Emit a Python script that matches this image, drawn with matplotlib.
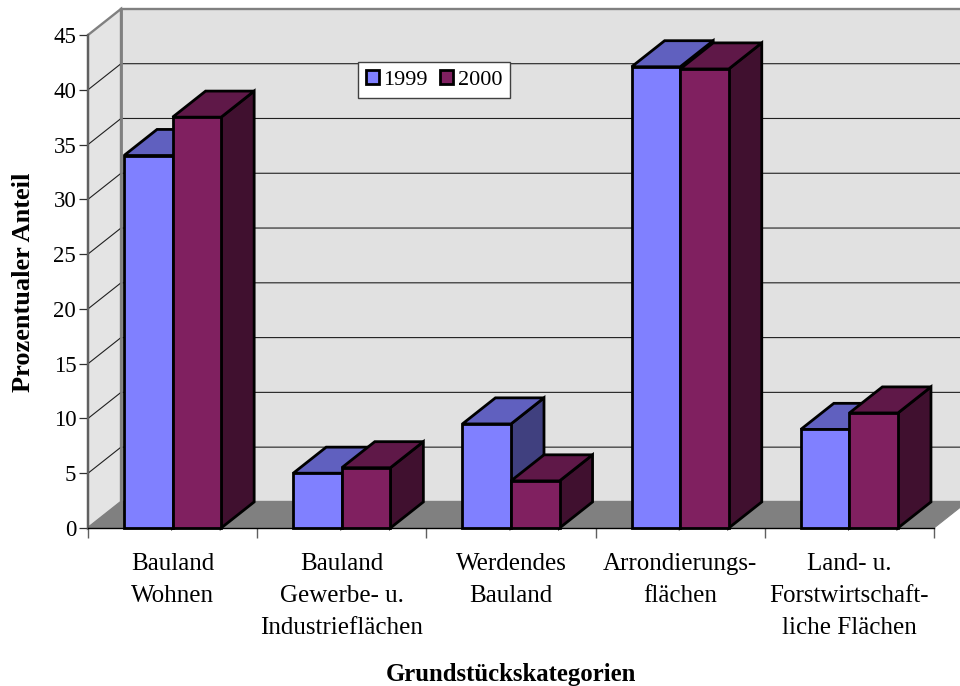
import matplotlib
matplotlib.use("Agg")
import matplotlib.pyplot as plt
from matplotlib.patches import Polygon

plt.rcParams["font.family"] = ["Liberation Serif", "DejaVu Serif"]

categories = [
    "Bauland\nWohnen",
    "Bauland\nGewerbe- u.\nIndustrieflächen",
    "Werdendes\nBauland",
    "Arrondierungs-\nflächen",
    "Land- u.\nForstwirtschaft-\nliche Flächen",
]
years = ["1999", "2000"]
values_1999 = [34.0, 5.0, 9.5, 42.1, 9.0]
values_2000 = [37.5, 5.5, 4.3, 41.9, 10.5]
y_ticks = [0, 5, 10, 15, 20, 25, 30, 35, 40, 45]

# Colours per face of the pseudo-3D bars: front, top, side
faces_1999 = ("#8080FF", "#6060BF", "#40407F")
faces_2000 = ("#802060", "#5F1848", "#40102F")
WALL = "#E1E1E1"
FLOOR = "#808080"
FRAME = "#808080"

# Oblique projection offset of the chart's depth, in data units
DEPTH_X = 0.195
DEPTH_Y = 2.38
BAR_WIDTH = 0.287
EDGE = 2.0

fig = plt.figure(figsize=(9.6, 6.86), dpi=100)
ax = fig.add_axes([88 / 960, 1 - 528 / 686, (934 - 88) / 960, (528 - 35) / 686])
ax.set_xlim(0, 5)
ax.set_ylim(0, 45)
ax.patch.set_visible(False)
top = y_ticks[-1]


def face(points, fill, edge, lw, z):
    ax.add_patch(Polygon(points, closed=True, facecolor=fill, edgecolor=edge,
                         linewidth=lw, zorder=z, clip_on=False, joinstyle="miter"))


# Chart walls and floor
face([(DEPTH_X, DEPTH_Y), (5 + DEPTH_X, DEPTH_Y), (5 + DEPTH_X, top + DEPTH_Y), (DEPTH_X, top + DEPTH_Y)],
     WALL, FRAME, 1.7, 1)
face([(0, 0), (DEPTH_X, DEPTH_Y), (DEPTH_X, top + DEPTH_Y), (0, top)], "#E4E4E4", FRAME, 1.7, 1)
face([(0, 0), (5, 0), (5 + DEPTH_X, DEPTH_Y), (DEPTH_X, DEPTH_Y)], FLOOR, FLOOR, 0.8, 2)

# Gridlines run across the back wall and down the left wall
for tick in y_ticks[1:-1]:
    ax.plot([0, DEPTH_X, 5 + DEPTH_X], [tick, tick + DEPTH_Y, tick + DEPTH_Y],
            color="#202020", lw=0.8, zorder=3, clip_on=False, snap=False)
ax.plot([DEPTH_X, DEPTH_X], [DEPTH_Y, top + DEPTH_Y], color=FRAME, lw=2.0, zorder=3.5, clip_on=False)

# Bars: side and top faces first, then the front face, series by series
containers = []
for s, (series, colours) in enumerate(zip([values_1999, values_2000], [faces_1999, faces_2000])):
    z = 5 + s
    for i, v in enumerate(series):
        left = i + 0.5 - BAR_WIDTH + s * BAR_WIDTH
        right = left + BAR_WIDTH
        face([(right, 0), (right + DEPTH_X, DEPTH_Y), (right + DEPTH_X, v + DEPTH_Y), (right, v)],
             colours[2], "black", EDGE, z)
        face([(left, v), (right, v), (right + DEPTH_X, v + DEPTH_Y), (left + DEPTH_X, v + DEPTH_Y)],
             colours[1], "black", EDGE, z)
    bars = ax.bar([i + 0.5 - BAR_WIDTH + (s + 0.5) * BAR_WIDTH for i in range(len(series))], series,
                  width=BAR_WIDTH, color=colours[0], edgecolor="black", linewidth=EDGE,
                  zorder=z + 0.5, clip_on=False)
    containers.append(bars)

# Axes furniture
for name in ("top", "right"):
    ax.spines[name].set_visible(False)
ax.spines["left"].set_color("#606060")
ax.spines["left"].set_linewidth(1.6)
ax.spines["left"].set_zorder(4)
ax.spines["bottom"].set_color("black")
ax.spines["bottom"].set_linewidth(1.0)
ax.spines["bottom"].set_zorder(4)
ax.set_yticks(y_ticks)
ax.tick_params(axis="y", length=6.5, width=0.9, color="#303030", labelsize=16.5, pad=2)
ax.set_xticks(range(len(categories) + 1))
ax.set_xticklabels([])
ax.tick_params(axis="x", which="major", length=7, width=1.0, color="#606060")
ax.set_xticks([i + 0.5 for i in range(len(categories))], minor=True)
ax.set_xticklabels(categories, minor=True, fontsize=18, linespacing=1.6)
ax.tick_params(axis="x", which="minor", length=0, pad=18)

fig.text(24 / 960, 1 - 282 / 686, "Prozentualer Anteil", rotation=90, ha="center", va="center",
         fontsize=19, fontweight="bold")
fig.text(511 / 960, 1 - 674 / 686, "Grundstückskategorien", ha="center", va="center",
         fontsize=17.8, fontweight="bold")

legend = ax.legend(containers, years, ncol=2, loc="center", fontsize=16,
                   bbox_to_anchor=(434 / 960, 1 - 80 / 686), bbox_transform=fig.transFigure,
                   frameon=True, fancybox=False, framealpha=1, facecolor="white", edgecolor="#404040",
                   handlelength=0.6, handleheight=0.6, handletextpad=0.2, columnspacing=0.55,
                   borderpad=0.36, borderaxespad=0)
legend.set_zorder(10)
legend.get_frame().set_linewidth(1.0)

fig.savefig("out.png", dpi=100, facecolor="white")
